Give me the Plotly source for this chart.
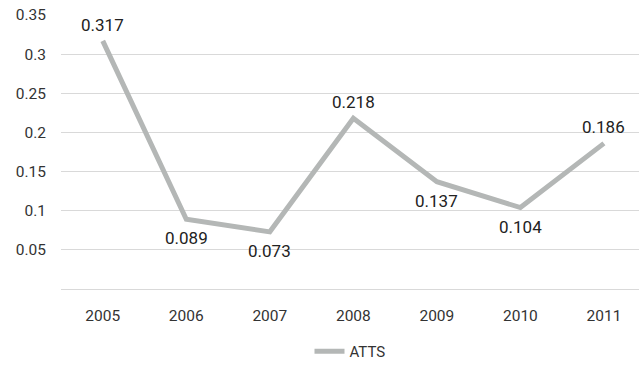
import plotly.graph_objects as go

years = ["2005", "2006", "2007", "2008", "2009", "2010", "2011"]
atts = [0.317, 0.089, 0.073, 0.218, 0.137, 0.104, 0.186]
label_above = [True, False, False, True, False, False, True]
y_ticks = [0.05, 0.1, 0.15, 0.2, 0.25, 0.3, 0.35]
y_tick_text = ["0.05", "0.1", "0.15", "0.2", "0.25", "0.3", "0.35"]

FONT = "Roboto, Liberation Sans, sans-serif"

fig = go.Figure()
fig.add_trace(go.Scatter(
    x=years, y=atts, name="ATTS",
    mode="lines",
    line=dict(color="#b4b7b6", width=5),
    cliponaxis=False,
))

# value labels above or below each point (x given as category index)
for i, (v, above) in enumerate(zip(atts, label_above)):
    fig.add_annotation(
        x=i, y=v, xref="x", yref="y", text=f"{v:.3f}", showarrow=False,
        yshift=16 if above else -19,
        font=dict(family=FONT, size=17, color="#222222"),
    )

fig.update_layout(
    width=639, height=368,
    margin=dict(l=61, r=0, t=15, b=75),
    paper_bgcolor="white", plot_bgcolor="white",
    font=dict(family=FONT, size=15, color="#333333"),
    showlegend=True,
    legend=dict(orientation="h", x=0.5, xanchor="center", y=-0.23, yanchor="middle",
                font=dict(family=FONT, size=15, color="#333333")),
    xaxis=dict(type="category", range=[-0.5, 6.42], showgrid=False,
               showline=True, linecolor="#d9d9d9", linewidth=1,
               ticks="", ticklabelstandoff=12,
               tickfont=dict(family=FONT, size=15.5, color="#333333")),
    yaxis=dict(range=[0, 0.35], tickvals=y_ticks, ticktext=y_tick_text,
               showgrid=True, gridcolor="#d9d9d9", gridwidth=1,
               zeroline=False, showline=False, ticks="",
               ticklabelstandoff=14,
               tickfont=dict(family=FONT, size=15.5, color="#333333")),
)

fig.write_html("out.html")
